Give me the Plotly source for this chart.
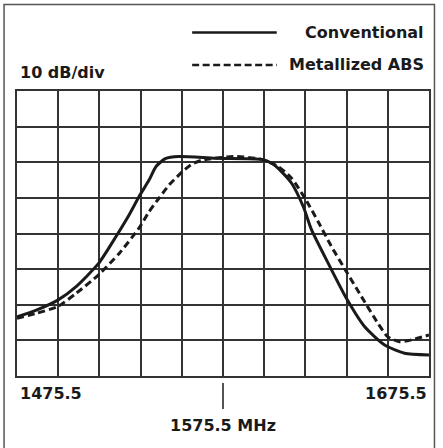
import plotly.graph_objects as go

# Frequency (MHz) and response (dB)
conv_freq = [1475.5, 1484.9, 1495.3, 1504.2, 1515.1, 1523.5, 1529.9, 1534.7, 1539.6,
             1543.0, 1547.5, 1554.1, 1571.8, 1594.3, 1599.2, 1604.0, 1608.8, 1614.5,
             1618.5, 1626.6, 1635.4, 1644.3, 1654.0, 1663.6, 1675.5]
conv_db = [-63.4, -61.5, -58.7, -54.9, -48.4, -40.9, -34.8, -29.7, -25.0,
           -21.2, -19.0, -18.4, -18.9, -19.2, -20.3, -22.7, -25.9, -32.5,
           -39.0, -48.4, -58.2, -66.2, -71.3, -73.6, -74.1]

abs_freq = [1475.5, 1484.9, 1495.3, 1504.2, 1515.1, 1525.1, 1534.7, 1539.6, 1544.4,
            1549.3, 1555.7, 1560.5, 1565.4, 1581.5, 1594.3, 1602.3, 1608.8, 1615.3,
            1621.7, 1628.2, 1635.4, 1642.7, 1650.7, 1655.5, 1661.2, 1666.8, 1675.5]
abs_db = [-63.8, -62.4, -60.5, -56.8, -51.6, -45.6, -38.5, -33.9, -30.1,
          -26.4, -22.7, -20.5, -19.4, -18.4, -19.2, -21.2, -24.5, -30.1,
          -36.7, -43.7, -50.7, -57.7, -65.2, -69.0, -70.4, -69.9, -68.5]

series_names = ["Conventional", "Metallized ABS"]
x_labels = ["1475.5", "1575.5 MHz", "1675.5"]
scale_label = "10 dB/div"

W, H = 443, 448
L, R, T, B = 17, 431, 91, 376


def px(x):
    return (x - L) / (R - L)


def py(y):
    return (B - y) / (B - T)


FONT = "DejaVu Sans"
INK = "#1a1a1a"

fig = go.Figure()
fig.add_trace(go.Scatter(x=conv_freq, y=conv_db, mode="lines", name=series_names[0],
                         line=dict(color=INK, width=3, shape="spline", smoothing=0.6),
                         showlegend=False))
fig.add_trace(go.Scatter(x=abs_freq, y=abs_db, mode="lines", name=series_names[1],
                         line=dict(color=INK, width=3, shape="spline", smoothing=0.6,
                                   dash="7px,4px"),
                         showlegend=False))

axis_common = dict(showgrid=True, gridcolor="#333333", gridwidth=1.6, zeroline=False,
                   showline=True, linecolor="#333333", linewidth=1.6, mirror=True,
                   showticklabels=False, ticks="")
fig.update_xaxes(range=[1475.5, 1675.5], dtick=20, tick0=1475.5, **axis_common)
fig.update_yaxes(range=[-80, 0], dtick=10, tick0=0, **axis_common)

shapes = []
# outer frame
shapes.append(dict(type="rect", xref="paper", yref="paper",
                   x0=px(4), x1=px(436.5), y0=py(460), y1=py(4.5),
                   line=dict(color="#555555", width=1.5), layer="below"))
# legend samples
shapes.append(dict(type="line", xref="paper", yref="paper", x0=px(193), x1=px(278),
                   y0=py(32.5), y1=py(32.5), line=dict(color=INK, width=2.6)))
shapes.append(dict(type="line", xref="paper", yref="paper", x0=px(193), x1=px(278),
                   y0=py(65), y1=py(65), line=dict(color=INK, width=2.6, dash="7px,3.5px")))
# centre marker
shapes.append(dict(type="line", xref="x", yref="paper", x0=1575.5, x1=1575.5,
                   y0=py(383), y1=py(409), line=dict(color=INK, width=1.5)))
fig.update_layout(shapes=shapes)

tf = dict(family=FONT, size=16, color=INK, weight="bold")
ann = []
ann.append(dict(text=series_names[0], xref="paper", yref="paper", x=px(428), y=py(32.5),
                xanchor="right", yanchor="middle", showarrow=False, font=tf))
ann.append(dict(text=series_names[1], xref="paper", yref="paper", x=px(428), y=py(65),
                xanchor="right", yanchor="middle", showarrow=False, font=tf))
ann.append(dict(text=scale_label, xref="paper", yref="paper", x=px(18), y=py(72),
                xanchor="left", yanchor="middle", showarrow=False, font=tf))
ann.append(dict(text=x_labels[0], xref="x", yref="paper", x=1475.5, y=py(393),
                xanchor="left", yanchor="middle", showarrow=False, font=tf, xshift=1))
ann.append(dict(text=x_labels[2], xref="x", yref="paper", x=1675.5, y=py(393),
                xanchor="right", yanchor="middle", showarrow=False, font=tf))
ann.append(dict(text=x_labels[1], xref="x", yref="paper", x=1575.5, y=py(425),
                xanchor="center", yanchor="middle", showarrow=False, font=tf))
fig.update_layout(annotations=ann)

fig.update_layout(width=W, height=H, margin=dict(l=L, r=W - R, t=T, b=H - B),
                  paper_bgcolor="white", plot_bgcolor="white", showlegend=False)

fig.write_html("out.html", config={"displayModeBar": False},
               post_script="document.body.style.margin='0px';document.body.style.overflow='hidden';")
